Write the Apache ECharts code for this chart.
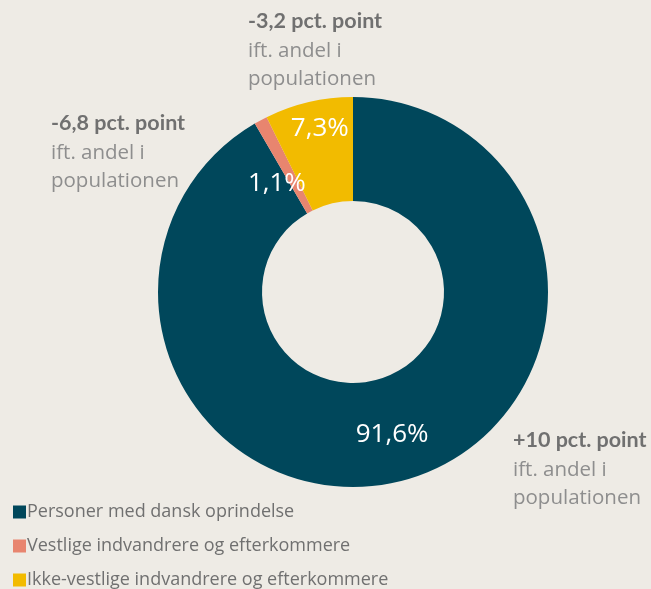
<!DOCTYPE html>
<html>
<head>
<meta charset="utf-8">
<script src="https://cdn.jsdelivr.net/npm/echarts@6/dist/echarts.min.js"></script>
<style>
  html, body { margin: 0; padding: 0; background: #eeebe5; }
  #chart { width: 651px; height: 589px; }
</style>
</head>
<body>
<div id="chart"></div>
<script>
// andele (pct.)
const categories = ['Personer med dansk oprindelse', 'Vestlige indvandrere og efterkommere', 'Ikke-vestlige indvandrere og efterkommere']
const shares = [91.6, 1.1, 7.3]
const colors = ['#00475b', '#e8856f', '#f2bb00']
// ændring ift. andel i populationen
const diffLabels = ['+10 pct. point', '-6,8 pct. point', '-3,2 pct. point']
const subLabel = ['ift. andel i', 'populationen']
const labelOffsets = [[1, 2], [-7, 20], [0, -21]]

const chart = echarts.init(document.getElementById('chart'))

// tekstbokse ved siden af ringen
const notePos = [[513, 429], [51, 112], [248, 10]]
const notes = []
diffLabels.forEach((t, i) => {
  notes.push({
    type: 'text', left: notePos[i][0], top: notePos[i][1],
    style: { text: t, font: 'bold 21.5px Lato', fill: '#707070' }
  })
  notes.push({
    type: 'text', left: notePos[i][0], top: notePos[i][1] + 27,
    style: { text: subLabel.join('\n'), font: '20.5px "Open Sans"', fill: '#8e8e8e', lineHeight: 28 }
  })
})

chart.setOption({
  backgroundColor: '#eeebe5',
  animation: false,
  legend: {
    orient: 'vertical',
    left: 8,
    top: 498,
    height: 150,
    itemWidth: 13,
    itemHeight: 13,
    itemGap: 16,
    icon: 'rect',
    textStyle: { fontFamily: 'Open Sans', fontSize: 18, color: '#707070', padding: [0, 0, 0, -4] },
    data: categories
  },
  graphic: notes,
  series: [{
    type: 'pie',
    center: [353, 292],
    radius: [91, 195],
    startAngle: 90,
    clockwise: true,
    label: {
      position: 'inside',
      color: '#ffffff',
      fontFamily: 'Open Sans',
      fontSize: 26,
      formatter: p => String(p.value).replace('.', ',') + '%'
    },
    labelLine: { show: false },
    data: categories.map((c, i) => ({
      name: c,
      value: shares[i],
      itemStyle: { color: colors[i] },
      label: { offset: labelOffsets[i] }
    }))
  }]
})
</script>
</body>
</html>
